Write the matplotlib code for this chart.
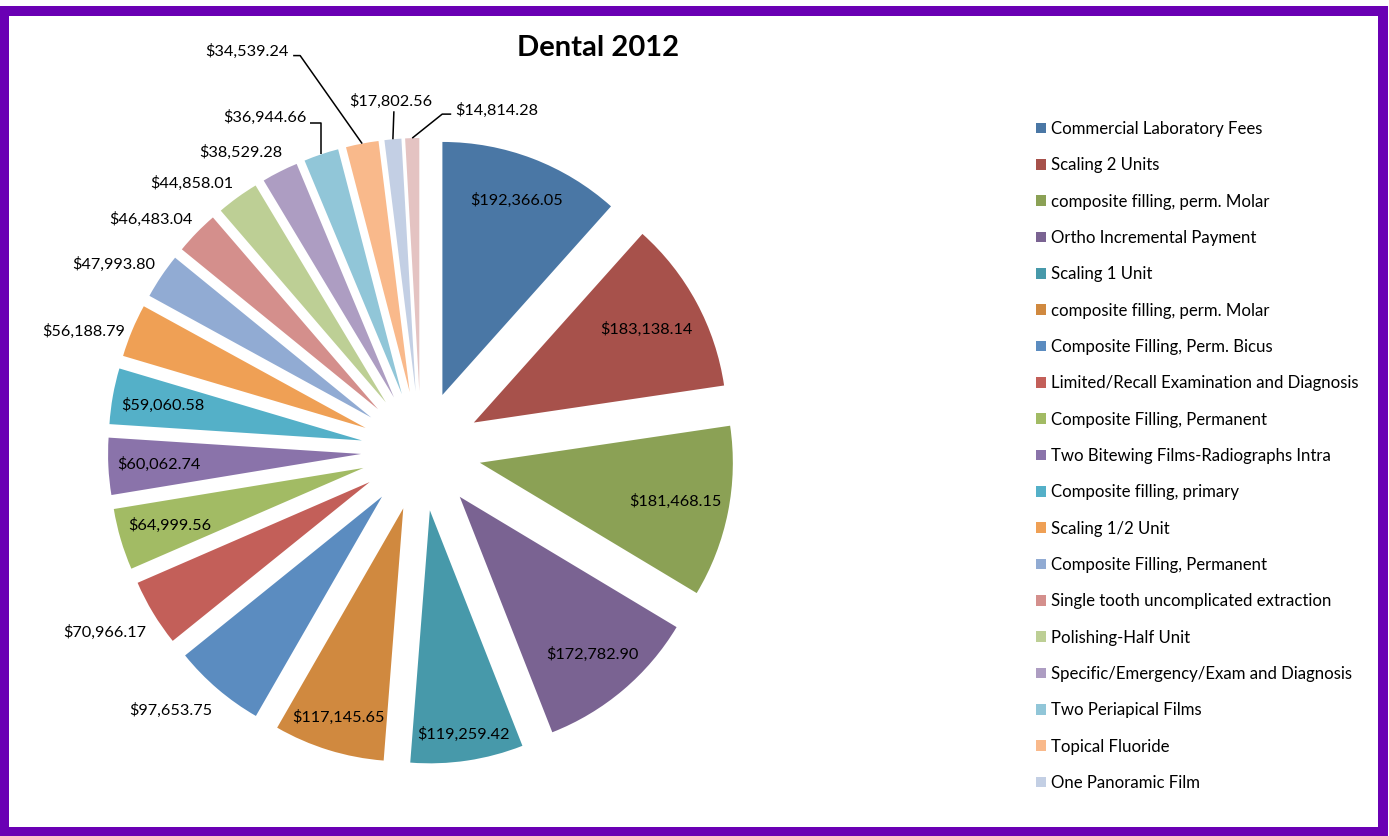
import matplotlib
matplotlib.use("Agg")
import matplotlib.pyplot as plt
import numpy as np
from matplotlib.patches import Rectangle

plt.rcParams['font.family'] = ['Lato', 'DejaVu Sans']

title = "Dental 2012"

categories = [
    "Commercial Laboratory Fees",
    "Scaling 2 Units",
    "composite filling, perm. Molar",
    "Ortho Incremental Payment",
    "Scaling 1 Unit",
    "composite filling, perm. Molar",
    "Composite Filling, Perm. Bicus",
    "Limited/Recall Examination and Diagnosis",
    "Composite Filling, Permanent",
    "Two Bitewing Films-Radiographs Intra",
    "Composite filling, primary",
    "Scaling 1/2 Unit",
    "Composite Filling, Permanent",
    "Single tooth uncomplicated extraction",
    "Polishing-Half Unit",
    "Specific/Emergency/Exam and Diagnosis",
    "Two Periapical Films",
    "Topical Fluoride",
    "One Panoramic Film",
]

values = [
    192366.05, 183138.14, 181468.15, 172782.90, 119259.42,
    117145.65, 97653.75, 70966.17, 64999.56, 60062.74,
    59060.58, 56188.79, 47993.80, 46483.04, 44858.01,
    38529.28, 36944.66, 34539.24, 17802.56, 14814.28,
]

colors = [
    "#4A77A5", "#A7514B", "#8BA155", "#7A6392", "#4799AA",
    "#D0893F", "#5B8CC0", "#C35F59", "#A2BB64", "#8A73AA",
    "#54B0C8", "#EFA055", "#91ABD3", "#D48F8C", "#BDCF95",
    "#AD9DC2", "#91C6D8", "#F9B98B", "#C3CFE4", "#E4C3C2",
]

# Figure in pixel units (y up in data space)
W, H = 1389, 836
fig = plt.figure(figsize=(W / 100, H / 100), dpi=100)
ax = fig.add_axes([0, 0, 1, 1])

cx, cy = 421, H - 451
R = 253
EXPL = 60

wedges, _ = ax.pie(values, colors=colors, startangle=90, counterclock=False,
                   radius=R, center=(cx, cy), explode=[EXPL] * len(values),
                   frame=True, wedgeprops=dict(linewidth=0))
ax.set_xlim(0, W)
ax.set_ylim(0, H)
ax.set_aspect('auto')
ax.axis('off')

def money(v):
    return "${:,.2f}".format(v)

# label placement: inside labels by radial distance from the pie origin;
# outside labels by pixel offset (dx, dy; dy downward) from the wedge's outer tip
inside_dist = {0: 268, 1: 256, 2: 259, 3: 266, 4: 286, 5: 279,
               8: 262, 9: 262, 10: 262}
outside_off = {6: (-5, 21, 'right'), 7: (-7, 19, 'right'),
               11: (-7, 1, 'right'), 12: (-6, -12, 'right'),
               13: (-4, -13, 'right'), 14: (-4, -14, 'right'),
               15: (3, -19, 'right'),
               16: (-15, -37, 'right'), 17: (-74, -92, 'right'),
               18: (-2, -38, 'center'), 19: (43, -28, 'left')}
# leader lines: (start, elbow) offsets from the outer tip
leaders = {16: ((-11, -31), (0, -31)),
           17: ((-69, -88), (-62, -88)),
           18: ((1, -28), (1, -28)),
           19: ((39, -24), (30, -24))}

label_fs = 11.7
for i, (w, v) in enumerate(zip(wedges, values)):
    mid = np.deg2rad((w.theta1 + w.theta2) / 2)
    ux, uy = np.cos(mid), np.sin(mid)
    tipx = w.center[0] + w.r * ux
    tipy = w.center[1] + w.r * uy
    if i in inside_dist:
        d = inside_dist[i]
        ax.text(cx + d * ux, cy + d * uy, money(v), ha='center', va='center',
                fontsize=label_fs, color='black')
    else:
        dx, dy, ha = outside_off[i]
        ax.text(tipx + dx, tipy - dy, money(v), ha=ha, va='center',
                fontsize=label_fs, color='black')
    if i in leaders:
        (sx, sy), (ex, ey) = leaders[i]
        ax.plot([tipx + sx, tipx + ex, tipx], [tipy - sy, tipy - ey, tipy],
                color='black', lw=1.1, solid_capstyle='butt')

ax.text(598, H - 48, title, ha='center', va='center', fontsize=21,
        fontweight='bold', color='black')

leg = ax.legend(wedges[:len(categories)], categories, loc='upper left',
                bbox_to_anchor=(1036 / W, (H - 121) / H), frameon=False,
                fontsize=12.1, handlelength=0.6, handleheight=0.6,
                handletextpad=0.3, labelspacing=1.21, borderpad=0,
                borderaxespad=0)

border = Rectangle((4, 4), W - 4 - 6, H - 4 - 11, fill=False,
                   edgecolor='#6A00B4', linewidth=7.2, clip_on=False,
                   zorder=10)
ax.add_patch(border)

fig.savefig("out.png", dpi=100, facecolor='white')
